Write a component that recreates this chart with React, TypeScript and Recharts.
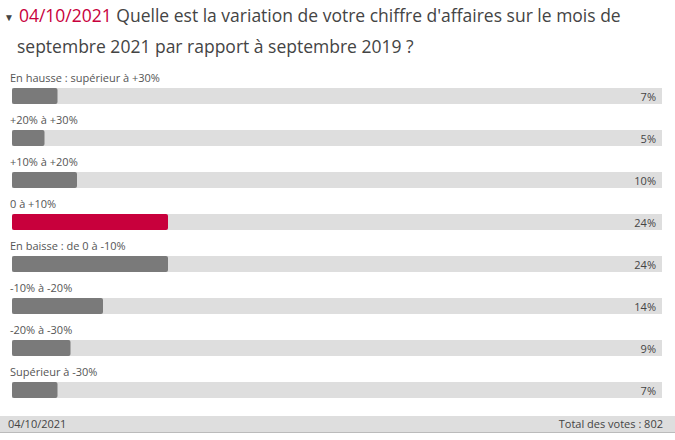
import React from 'react';
import { BarChart, Bar, XAxis, YAxis, Cell, LabelList } from 'recharts';

const categories = [
  'En hausse : supérieur à +30%',
  '+20% à +30%',
  '+10% à +20%',
  '0 à +10%',
  'En baisse : de 0 à -10%',
  '-10% à -20%',
  '-20% à -30%',
  'Supérieur à -30%',
];
const percents = [7, 5, 10, 24, 24, 14, 9, 7];
const highlightIndex = 3;

const data = categories.map((name, i) => ({ name, value: percents[i] }));

const W = 675;
const H = 440;
const PLOT_RIGHT = 662;

const RowLabel = (props: any) => {
  const { x, y, value } = props;
  return (
    <text x={x - 2} y={y - 6} fontSize={11} fill="#555" fontFamily="'Open Sans', sans-serif">
      {value}
    </text>
  );
};

const PctLabel = (props: any) => {
  const { y, height, value } = props;
  return (
    <text
      x={PLOT_RIGHT - 6}
      y={y + height - 3}
      textAnchor="end"
      fontSize={11}
      fill="#444"
      fontFamily="'Open Sans', sans-serif"
    >
      {value}%
    </text>
  );
};

export default function App() {
  return (
    <div style={{ position: 'absolute', left: 0, top: 0, width: W, height: H, background: '#fff', fontFamily: "'Open Sans', sans-serif" }}>
      {/* Title */}
      <div style={{ position: 'absolute', left: 4, top: 1, fontSize: 17.5, lineHeight: '29px', color: '#444', width: 670, whiteSpace: 'nowrap' }}>
        <span style={{ fontSize: 10, marginRight: 5, verticalAlign: 'middle', color: '#444' }}>▼</span>
        <span style={{ color: '#c8003c' }}>04/10/2021</span> Quelle est la variation de votre chiffre d'affaires sur le mois de
        <br />
        <span style={{ paddingLeft: 13 }}>septembre 2021 par rapport à septembre 2019 ?</span>
      </div>

      <div style={{ position: 'absolute', left: 0, top: 0 }}>
        <BarChart
          width={W}
          height={H}
          data={data}
          layout="vertical"
          margin={{ top: 75, right: W - PLOT_RIGHT, bottom: 29, left: 12 }}
          barSize={16}
        >
          <XAxis type="number" domain={[0, 100]} hide />
          <YAxis type="category" dataKey="name" hide />
          <Bar
            dataKey="value"
            isAnimationActive={false}
            background={{ fill: '#dedede' }}
            radius={2}
          >
            {data.map((d, i) => (
              <Cell key={d.name} fill={i === highlightIndex ? '#c8003c' : '#7a7a7a'} />
            ))}
            <LabelList dataKey="name" content={RowLabel} />
            <LabelList dataKey="value" content={PctLabel} />
          </Bar>
        </BarChart>
      </div>

      {/* Footer */}
      <div
        style={{
          position: 'absolute',
          left: 0,
          top: 416,
          width: W,
          height: 16,
          background: '#dedede',
          borderBottom: '1px solid #bbb',
          fontSize: 11,
          color: '#444',
          lineHeight: '16px',
        }}
      >
        <span style={{ position: 'absolute', left: 8 }}>04/10/2021</span>
        <span style={{ position: 'absolute', right: 12 }}>Total des votes : 802</span>
      </div>
    </div>
  );
}
